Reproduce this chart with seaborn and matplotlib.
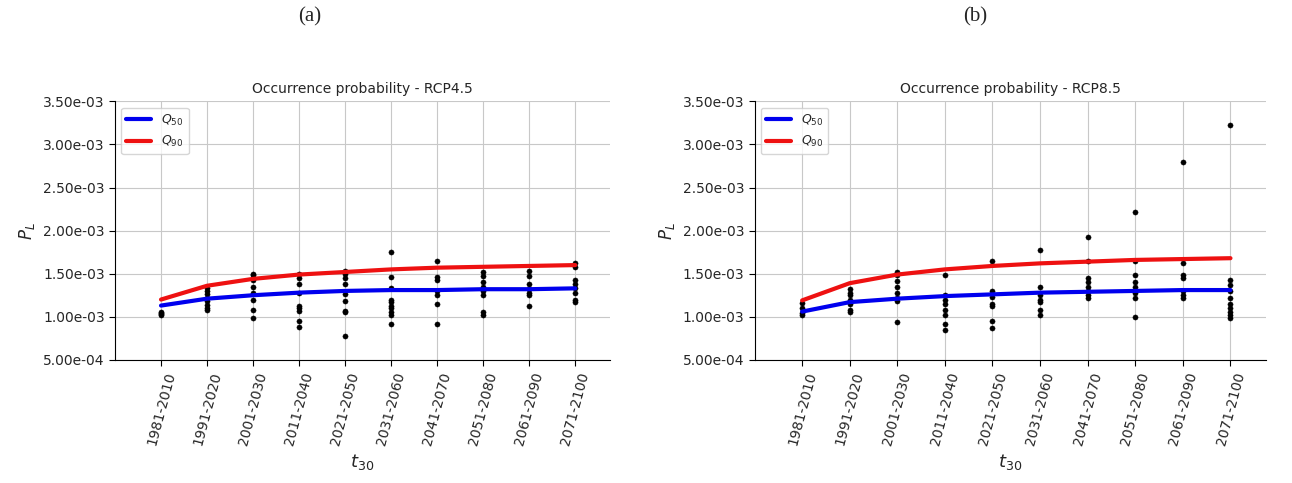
import numpy as np
import pandas as pd
import matplotlib
matplotlib.use("Agg")
import matplotlib.pyplot as plt
import seaborn as sns

periods = ["1981-2010", "1991-2020", "2001-2030", "2011-2040", "2021-2050",
           "2031-2060", "2041-2070", "2051-2080", "2061-2090", "2071-2100"]

# valores en unidades de 1e-3
q50_45 = [1.13, 1.21, 1.25, 1.28, 1.30, 1.31, 1.31, 1.32, 1.32, 1.33]
q90_45 = [1.20, 1.36, 1.44, 1.49, 1.52, 1.55, 1.57, 1.58, 1.59, 1.60]
pts_45 = [
    [1.06, 1.04, 1.02, 1.03],
    [1.33, 1.30, 1.27, 1.22, 1.18, 1.14, 1.10, 1.08],
    [1.50, 1.48, 1.43, 1.35, 1.28, 1.20, 1.08, 0.98],
    [1.50, 1.45, 1.38, 1.28, 1.12, 1.10, 1.07, 0.95, 0.88],
    [1.53, 1.50, 1.45, 1.38, 1.26, 1.18, 1.05, 1.07, 0.78],
    [1.75, 1.46, 1.33, 1.20, 1.17, 1.13, 1.10, 1.06, 1.02, 0.92],
    [1.65, 1.46, 1.43, 1.30, 1.25, 1.15, 0.92],
    [1.52, 1.47, 1.40, 1.35, 1.30, 1.25, 1.05, 1.02],
    [1.53, 1.47, 1.38, 1.32, 1.28, 1.25, 1.12],
    [1.63, 1.58, 1.43, 1.38, 1.33, 1.28, 1.20, 1.17],
]

q50_85 = [1.06, 1.17, 1.21, 1.24, 1.26, 1.28, 1.29, 1.30, 1.31, 1.31]
q90_85 = [1.19, 1.39, 1.49, 1.55, 1.59, 1.62, 1.64, 1.66, 1.67, 1.68]
pts_85 = [
    [1.16, 1.10, 1.04, 1.02],
    [1.32, 1.28, 1.25, 1.20, 1.15, 1.08, 1.05],
    [1.52, 1.48, 1.42, 1.35, 1.28, 1.22, 1.18, 0.94],
    [1.49, 1.25, 1.20, 1.15, 1.08, 1.02, 0.92, 0.85],
    [1.65, 1.30, 1.23, 1.15, 1.12, 0.95, 0.87],
    [1.77, 1.35, 1.25, 1.20, 1.17, 1.08, 1.02],
    [1.93, 1.65, 1.45, 1.40, 1.35, 1.30, 1.25, 1.22],
    [2.22, 1.65, 1.48, 1.40, 1.35, 1.28, 1.22, 1.00],
    [2.80, 1.62, 1.48, 1.45, 1.30, 1.25, 1.22],
    [3.23, 1.43, 1.37, 1.30, 1.22, 1.15, 1.10, 1.05, 1.02, 0.99],
]

sns.set_style("whitegrid", {"axes.edgecolor": "black", "grid.color": "#c8c8c8"})
plt.rcParams["font.family"] = ["DejaVu Sans"]

fig = plt.figure(figsize=(12.92, 4.83), dpi=100)
axes = [fig.add_axes([0.089, 0.255, 0.383, 0.535]),
        fig.add_axes([0.584, 0.255, 0.396, 0.535])]

panels = [("(a)", 0.24, "RCP4.5", q50_45, q90_45, pts_45),
          ("(b)", 0.755, "RCP8.5", q50_85, q90_85, pts_85)]

for ax, (lab, lx, rcp, q50, q90, pts) in zip(axes, panels):
    x = np.arange(len(periods))
    sc = pd.DataFrame([(i, v * 1e-3) for i, col in enumerate(pts) for v in col],
                      columns=["x", "p"])
    sns.scatterplot(data=sc, x="x", y="p", color="black", s=14,
                    edgecolor="black", ax=ax, zorder=3)
    sns.lineplot(x=x, y=np.array(q50) * 1e-3, color="#0000ee", linewidth=3,
                 label="$Q_{50}$", ax=ax, zorder=4)
    sns.lineplot(x=x, y=np.array(q90) * 1e-3, color="#ee1111", linewidth=3,
                 label="$Q_{90}$", ax=ax, zorder=4)
    ax.set_xlim(-1, 9.75)
    ax.set_ylim(5e-4, 3.5e-3)
    ticks = np.arange(5e-4, 3.51e-3, 5e-4)
    ax.set_yticks(ticks)
    ax.set_yticklabels([f"{v:.2e}" for v in ticks], fontsize=10)
    ax.set_xticks(x)
    ax.set_xticklabels(periods, rotation=75, fontsize=10)
    ax.tick_params(axis="both", length=4, color="black", left=True, bottom=True)
    ax.spines["top"].set_visible(False)
    ax.spines["right"].set_visible(False)
    ax.set_xlabel("$t_{30}$", fontsize=13)
    ax.set_ylabel("$P_L$", fontsize=12)
    ax.set_title(f"Occurrence probability - {rcp}", fontsize=10)
    ax.legend(loc="upper left", fontsize=9, frameon=True)
    fig.text(lx, 0.965, lab, ha="center", va="center",
             fontsize=15, family="Liberation Serif")

fig.savefig("out.png", dpi=100)
